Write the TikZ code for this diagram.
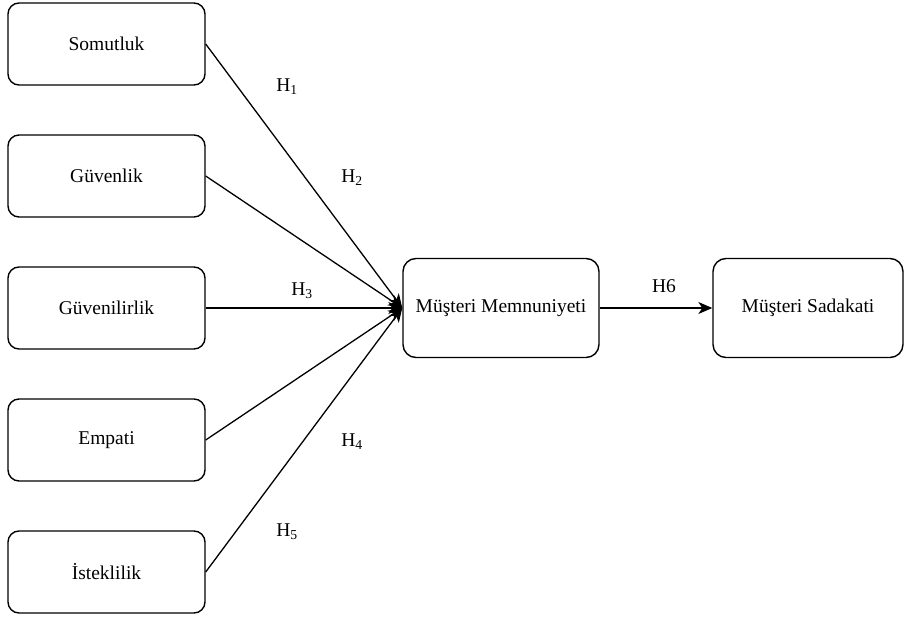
\documentclass[tikz,border=0pt]{standalone}
\usepackage{fontspec}
\setmainfont{Liberation Serif}
\usetikzlibrary{arrows.meta}
\begin{document}
\begin{tikzpicture}[x=1pt,y=-1pt,
  box/.style={draw, line width=1.4pt, rounded corners=11pt, minimum width=197pt, minimum height=82pt, inner sep=0pt, font=\fontsize{19.5}{22}\selectfont},
  bigbox/.style={box, minimum height=99pt, minimum width=196pt, rounded corners=13pt},
  conn/.style={line width=1.3pt, -{Stealth[length=14pt,width=12pt,inset=4pt]}},
  hlab/.style={font=\fontsize{19.5}{22}\selectfont, inner sep=0pt}
]
\useasboundingbox (0,0) rectangle (908,618);
\node[box] (s) at (106.5,44) {Somutluk};
\node[box] (g) at (106.5,176) {Güvenlik};
\node[box] (gi) at (106.5,308) {Güvenilirlik};
\node[box] (e) at (106.5,440) {Empati};
\node[box] (i) at (106.5,572) {İsteklilik};
\node[bigbox] (mm) at (501,308) {Müşteri Memnuniyeti};
\node[bigbox, minimum width=190pt] (ms) at (808,308) {Müşteri Sadakati};
\foreach \n in {s,g,gi,e,i}{
  \draw[conn] (\n.east) -- (mm.west);
}
\draw[conn] (mm.east) -- (ms.west);
\node[hlab] (h1) at (287,87) {H\textsubscript{1}};
\node[hlab] (h2) at (352,178) {H\textsubscript{2}};
\node[hlab] (h3) at (302,291) {H\textsubscript{3}};
\node[hlab] (h4) at (352,442) {H\textsubscript{4}};
\node[hlab] (h5) at (287,532) {H\textsubscript{5}};
\node[hlab] (h6) at (664,286) {H6};
\end{tikzpicture}
\end{document}
